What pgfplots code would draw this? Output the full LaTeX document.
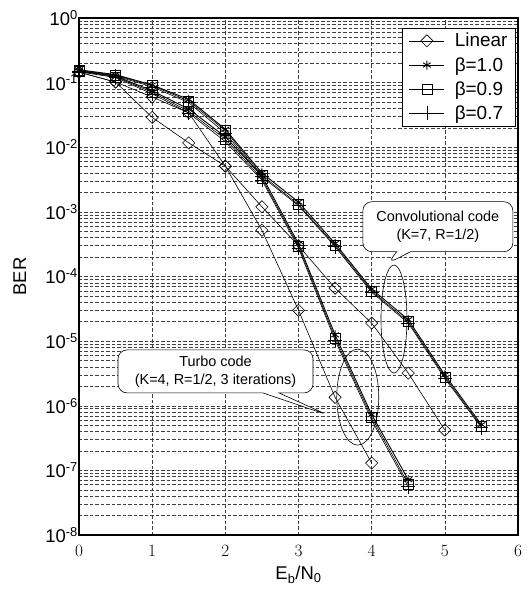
\documentclass[border=0pt]{standalone}
\usepackage{fontspec}
\setmainfont{Liberation Sans}
\usepackage{pgfplots}
\pgfplotsset{compat=1.18}
\usetikzlibrary{shapes.callouts}

\begin{document}
\begin{tikzpicture}
\path[use as bounding box] (-79bp,-57bp) rectangle (453bp,535bp);
\begin{axis}[
    scale only axis,
    width=439bp, height=517bp,
    ymode=log,
    xmin=0, xmax=6,
    ymin=1e-8, ymax=1,
    xtick={0,1,2,3,4,5,6},
    ytick={1e-8,1e-7,1e-6,1e-5,1e-4,1e-3,1e-2,1e-1,1},
    yticklabels={10\textsuperscript{-8},10\textsuperscript{-7},10\textsuperscript{-6},10\textsuperscript{-5},10\textsuperscript{-4},10\textsuperscript{-3},10\textsuperscript{-2},10\textsuperscript{-1},10\textsuperscript{0}},
    ticklabel style={font=\fontsize{18.5}{21}\selectfont},
    yticklabel style={inner sep=0pt, xshift=-1bp},
    xticklabel style={inner sep=0pt, yshift=-10bp},
    major tick length=0pt, minor tick length=0pt,
    xmajorgrids, ymajorgrids, yminorgrids,
    grid style={dash pattern=on 3.5bp off 2bp, black!75, line width=0.5bp},
    axis line style={line width=1.1bp},
    xlabel={E\textsubscript{b}/N\textsubscript{0}},
    ylabel={BER},
    label style={font=\fontsize{18.5}{21}\selectfont},
    xlabel style={at={(axis description cs:0.5,-0.077)}, anchor=center},
    ylabel style={at={(axis description cs:-0.135,0.5)}, anchor=center},
    clip=false,
    legend cell align=left,
    legend style={at={(0.995,0.981)}, anchor=north east, draw=black,
        line width=0.8bp, font=\fontsize{19}{21}\selectfont,
        row sep=5bp, column sep=8bp, inner xsep=6bp, inner ysep=3bp},
    legend image code/.code={\draw[mark repeat=2,mark phase=2]
        plot coordinates {(0bp,0bp)(17.5bp,0bp)(35bp,0bp)};},
    every axis plot/.append style={black, line width=0.6bp},
]

% turbo code, linear
\addplot[mark=square, mark size=4.3bp, mark options={rotate=45}] coordinates {
(0,0.145)(0.5,0.102)(1,0.029)(1.5,0.0117)(2,0.0051)(2.5,5.2e-4)(3,3.0e-5)(3.5,1.35e-6)(4,1.3e-7)};
\addlegendentry{Linear\hspace{6bp}}
% turbo code, beta=1.0
\addplot[mark=asterisk, mark size=4.5bp, line width=0.9bp] coordinates {
(0,0.152)(0.5,0.126)(1,0.075)(1.5,0.039)(2,0.0145)(2.5,0.0036)(3,3.2e-4)(3.5,1.25e-5)(4,7.3e-7)(4.5,7.2e-8)};
\addlegendentry{β=1.0}
% turbo code, beta=0.9
\addplot[mark=square, mark size=5bp] coordinates {
(0,0.15)(0.5,0.123)(1,0.071)(1.5,0.036)(2,0.0133)(2.5,0.0033)(3,2.95e-4)(3.5,1.12e-5)(4,6.6e-7)(4.5,6.2e-8)};
\addlegendentry{β=0.9}
% turbo code, beta=0.7
\addplot[mark=+, mark size=7bp] coordinates {
(0,0.147)(0.5,0.12)(1,0.067)(1.5,0.034)(2,0.0122)(2.5,0.0031)(3,2.75e-4)(3.5,1.03e-5)(4,6.0e-7)(4.5,5.6e-8)};
\addlegendentry{β=0.7}

% convolutional code
\addplot[forget plot, mark=square, mark size=4.3bp, mark options={rotate=45}] coordinates {
(0,0.145)(0.5,0.102)(1,0.060)(1.5,0.034)(2,0.0051)(2.5,1.2e-3)(3,3.0e-4)(3.5,6.6e-5)(4,1.9e-5)(4.5,3.2e-6)(5,4.2e-7)};
\addplot[forget plot, mark=asterisk, mark size=4.5bp, line width=0.9bp] coordinates {
(0,0.158)(0.5,0.133)(1,0.092)(1.5,0.055)(2,0.019)(2.5,0.0040)(3,1.42e-3)(3.5,3.25e-4)(4,6.4e-5)(4.5,2.15e-5)(5,3.0e-6)(5.5,5.1e-7)};
\addplot[forget plot, mark=square, mark size=5bp] coordinates {
(0,0.155)(0.5,0.13)(1,0.09)(1.5,0.052)(2,0.018)(2.5,0.0037)(3,1.3e-3)(3.5,3.05e-4)(4,6.0e-5)(4.5,2.0e-5)(5,2.8e-6)(5.5,4.8e-7)};
\addplot[forget plot, mark=+, mark size=7bp] coordinates {
(0,0.152)(0.5,0.127)(1,0.086)(1.5,0.049)(2,0.0165)(2.5,0.0035)(3,1.25e-3)(3.5,2.9e-4)(4,5.7e-5)(4.5,1.9e-5)(5,2.65e-6)(5.5,4.6e-7)};

% annotations
\draw[line width=0.6bp] (axis cs:4.305,2.2e-5) ellipse [x radius=13bp, y radius=54bp];
\draw[line width=0.6bp] (axis cs:3.81,1.36e-6) ellipse [x radius=21bp, y radius=48bp];
\node[rectangle callout, draw, fill=white, line width=0.6bp, rounded corners=9bp,
    minimum width=150bp, minimum height=50bp, align=center, inner sep=0pt,
    font=\fontsize{14.5}{18}\selectfont, callout pointer width=14bp,
    callout absolute pointer={(axis cs:4.22,1.6e-4)}]
    at (axis cs:4.905,5.9e-4) {Convolutional code\\(K=7, R=1/2)};
\node[rectangle callout, draw, fill=white, line width=0.6bp, rounded corners=9bp,
    minimum width=195bp, minimum height=43bp, align=center, inner sep=0pt,
    font=\fontsize{14.5}{18}\selectfont, callout pointer width=16bp,
    callout absolute pointer={(axis cs:3.40,7.2e-7)}]
    at (axis cs:1.866,3.4e-6) {Turbo code\\(K=4, R=1/2, 3 iterations)};
\end{axis}
\end{tikzpicture}
\end{document}
